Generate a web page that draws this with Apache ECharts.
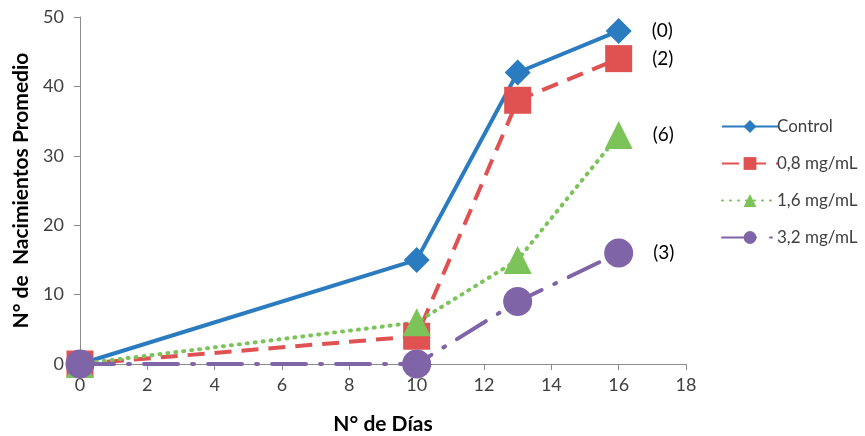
<!DOCTYPE html>
<html>
<head>
<meta charset="utf-8">
<script src="https://cdn.jsdelivr.net/npm/echarts@6/dist/echarts.min.js"></script>
<style>
  html, body { margin: 0; padding: 0; background: #fff; }
  #chart { width: 865px; height: 436px; }
</style>
</head>
<body>
<div id="chart"></div>
<script>
// Days of observation
const days = [0, 10, 13, 16];

// Mean births per treatment
const control = [0, 15, 42, 48];
const dose08 = [0, 4, 38, 44];
const dose16 = [0, 6, 15, 33];
const dose32 = [0, 0, 9, 16];

const seriesNames = ['Control', '0,8 mg/mL', '1,6 mg/mL', '3,2 mg/mL'];
const endLabels = ['(0)', '(2)', '(6)', '(3)'];

const xTicks = [0, 2, 4, 6, 8, 10, 12, 14, 16, 18];
const yTicks = [0, 10, 20, 30, 40, 50];

const FONT = 'Lato, "Open Sans", sans-serif';
const TEXT = '#404040';

function pairs(vals) {
  return days.map((d, i) => [d, vals[i]]);
}

function makeSeries(name, vals, color, symbol, size, lineType, cap, endLabel) {
  const data = pairs(vals).map((p, i, arr) => {
    if (i === arr.length - 1) {
      return {
        value: p,
        label: {
          show: true,
          position: 'right',
          distance: 20,
          formatter: endLabel,
          color: '#000',
          fontSize: 19,
          fontFamily: FONT
        }
      };
    }
    return p;
  });
  return {
    name: name,
    type: 'line',
    data: data,
    symbol: symbol,
    symbolSize: size,
    showAllSymbol: true,
    itemStyle: { color: color },
    lineStyle: { color: color, width: 4, type: lineType, cap: cap },
    emphasis: { disabled: true },
    animation: false,
    z: 2
  };
}

const chart = echarts.init(document.getElementById('chart'), null, { renderer: 'canvas' });

chart.setOption({
  backgroundColor: '#fff',
  animation: false,
  grid: { left: 80, right: 179, top: 17, bottom: 72, containLabel: false, outerBoundsMode: 'none' },
  legend: {
    orient: 'vertical',
    left: 716,
    top: 113,
    itemWidth: 56,
    itemHeight: 16,
    itemGap: 20,
    textStyle: { color: TEXT, fontSize: 17, fontFamily: FONT, padding: [0, 0, 0, -6] },
    data: seriesNames
  },
  xAxis: {
    type: 'value',
    min: 0,
    max: 18,
    interval: 2,
    name: 'N° de Días',
    nameLocation: 'middle',
    nameGap: 50,
    nameTextStyle: { color: '#000', fontSize: 21, fontWeight: 'bold', fontFamily: FONT },
    axisLine: { show: true, lineStyle: { color: '#8c8c8c', width: 1 } },
    axisTick: { show: true, length: 6, lineStyle: { color: '#8c8c8c' } },
    axisLabel: {
      color: TEXT, fontSize: 18, fontFamily: FONT, margin: 12,
      formatter: v => (xTicks.indexOf(v) >= 0 ? String(v) : '')
    },
    splitLine: { show: false }
  },
  yAxis: {
    type: 'value',
    min: 0,
    max: 50,
    interval: 10,
    name: 'N° de  Nacimientos Promedio',
    nameLocation: 'middle',
    nameGap: 46,
    nameTextStyle: { color: '#000', fontSize: 21, fontWeight: 'bold', fontFamily: FONT },
    axisLine: { show: true, lineStyle: { color: '#8c8c8c', width: 1 } },
    axisTick: { show: true, length: 6, lineStyle: { color: '#8c8c8c' } },
    axisLabel: {
      color: TEXT, fontSize: 18, fontFamily: FONT, margin: 16,
      formatter: v => (yTicks.indexOf(v) >= 0 ? String(v) : '')
    },
    splitLine: { show: false }
  },
  series: [
    makeSeries(seriesNames[0], control, '#2b7bc0', 'diamond', 26, 'solid', 'butt', endLabels[0]),
    makeSeries(seriesNames[1], dose08, '#e05252', 'rect', 27, [17, 10], 'butt', endLabels[1]),
    makeSeries(seriesNames[2], dose16, '#7cc35a', 'triangle', 28, [1, 7], 'round', endLabels[2]),
    makeSeries(seriesNames[3], dose32, '#8064a8', 'circle', 29, [34, 14, 2, 14], 'round', endLabels[3])
  ]
});
</script>
</body>
</html>
